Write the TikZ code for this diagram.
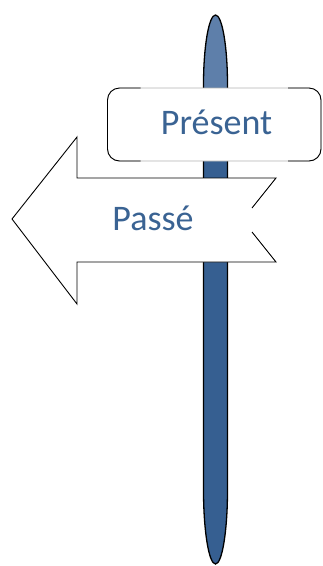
\documentclass[tikz,border=0pt]{standalone}
\usepackage{fontspec}
\setmainfont{Carlito}
\usetikzlibrary{positioning}
\definecolor{poleblue}{HTML}{365F91}
\definecolor{polelight}{HTML}{5E7FAA}
\definecolor{signtext}{HTML}{3A6393}

\begin{document}
\begin{tikzpicture}[
    x = 1pt, y = -1pt,
    every node/.style = {font=\fontsize{36}{40}\selectfont, text=signtext},
    board/.style = {draw=gray!60, line width=0.6pt, fill=white, rounded corners=12pt,
                    minimum width=213.5pt, minimum height=73pt, outer sep=0pt},
    outline/.style = {draw=black, line width=0.9pt}
  ]
  \useasboundingbox (0,0) rectangle (322,566);

  % pole
  \def\polepath{(203.5,85) -- (203.5,490)
    arc[start angle=180, end angle=0, x radius=12, y radius=74] -- (227.5,85)
    arc[start angle=360, end angle=180, x radius=12, y radius=70] -- cycle}
  \fill[poleblue] \polepath;
  \begin{scope}
    \clip (0,0) rectangle (322,88);
    \fill[polelight] \polepath;
  \end{scope}
  \draw[line width=1.3pt] \polepath;

  % board
  \node[board] (present) at (214.25,124.5) {};
  \node[anchor=base] (presentlabel) at (216.5,134) {Présent};
  \draw[outline, rounded corners=12pt]
    ([xshift=33pt]present.north west) -- (present.north west)
    -- (present.south west) -- ([xshift=33pt]present.south west);
  \draw[outline, rounded corners=12pt]
    ([xshift=-33pt]present.north east) -- (present.north east)
    -- (present.south east) -- ([xshift=-33pt]present.south east);

  % arrow
  \coordinate (tip) at (12,219);
  \coordinate (notchtop) at (252,208);
  \coordinate (notchbot) at (252,232);
  \fill[white] (notchtop) -- (276,178) -- (77,178) -- (77,137) -- (tip)
    -- (77,304) -- (77,262) -- (276,262) -- (notchbot) -- cycle;
  \draw[outline] (notchtop) -- (276,178) -- (77,178) -- (77,137) -- (tip)
    -- (77,304) -- (77,262) -- (276,262) -- (notchbot);
  \node[anchor=base] (passe) at (153,230) {Passé};

\end{tikzpicture}
\end{document}
